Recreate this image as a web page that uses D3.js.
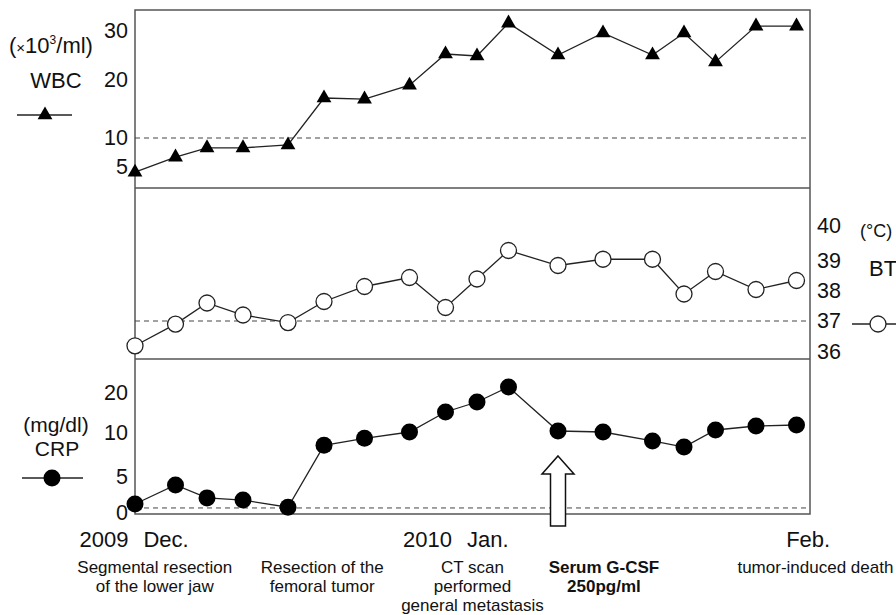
<!DOCTYPE html>
<meta charset="utf-8">
<style>
body { margin: 0; background: #fff; }
svg { font-family: "Liberation Sans", Arial, sans-serif; }
</style>
<body>
<script src="https://cdn.jsdelivr.net/npm/d3@7"></script>
<script>
// sampling days (day 0 = early Dec 2009)
var days = [0, 4.5, 8, 12, 17, 21, 25.5, 30.5, 34.5, 38, 41.5, 47, 52, 57.5, 61, 64.5, 69, 73.5]

var wbc = [4.1, 6.7, 8.3, 8.3, 8.8, 16.9, 16.7, 19.1, 25.3, 24.9, 31.6, 25.1, 29.6, 25.1, 29.6, 23.7, 31.0, 31.0]
var bt = [36.2, 36.9, 37.6, 37.2, 36.95, 37.65, 38.15, 38.45, 37.45, 38.4, 39.3, 38.85, 39.05, 39.05, 37.9, 38.65, 38.05, 38.35]
var crp = [1.25, 3.9, 2.1, 1.8, 0.8, 8.6, 9.4, 10.25, 15.25, 17.75, 21.5, 10.5, 10.25, 9.1, 8.4, 10.75, 11.75, 12]

var wbcTicks = [5, 10, 20, 30]
var btTicks = [36, 37, 38, 39, 40]
var crpTicks = [0, 5, 10, 20]

var wbcNormal = 10
var btNormal = 37
var crpNormal = 0.7

var monthLabels = [
    {day: 0.05, year: '2009', month: 'Dec.'},
    {day: 36, year: '2010', month: 'Jan.'},
    {day: 74.8, year: '', month: 'Feb.'}
]

var events = [
    {day: 2.2, lines: ['Segmental resection', 'of the lower jaw'], bold: false},
    {day: 20.8, lines: ['Resection of the', 'femoral tumor'], bold: false},
    {day: 37.5, lines: ['CT scan', 'performed', 'general metastasis'], bold: false},
    {day: 52.1, lines: ['Serum G-CSF', '250pg/ml'], bold: true},
    {day: 75.6, lines: ['tumor-induced death'], bold: false}
]
var arrowDay = 47

var width = 896
var height = 615
var left = 135, right = 810
var panels = [10, 188, 359, 514]

var svg = d3.select('body').append('svg')
    .attr('width', width)
    .attr('height', height)

var x = d3.scaleLinear().domain([0, 75]).range([left, right])

var yW = d3.scaleLinear().domain([5, 10, 20, 30]).range([167, 138, 80, 31])
var yT = d3.scaleLinear().domain([36, 37, 38, 39, 40]).range([352, 321, 291, 261, 226])
var yC = d3.scaleLinear().domain([0, 5, 10, 20]).range([513, 477, 433, 393])

var frameColor = '#555'
var lineColor = '#222'

// frame
svg.append('rect')
    .attr('x', left).attr('y', panels[0])
    .attr('width', right - left).attr('height', panels[3] - panels[0])
    .attr('fill', 'none').attr('stroke', frameColor).attr('stroke-width', 1.5)
svg.selectAll('.sep')
    .data([panels[1], panels[2]])
    .enter().append('line')
    .attr('class', 'sep')
    .attr('x1', left).attr('x2', right)
    .attr('y1', function (d) { return d }).attr('y2', function (d) { return d })
    .attr('stroke', frameColor).attr('stroke-width', 1.5)

// normal limits
svg.selectAll('.norm')
    .data([yW(wbcNormal), yT(btNormal), yC(crpNormal)])
    .enter().append('line')
    .attr('class', 'norm')
    .attr('x1', left).attr('x2', right)
    .attr('y1', function (d) { return d }).attr('y2', function (d) { return d })
    .attr('stroke', '#444').attr('stroke-width', 1)
    .attr('stroke-dasharray', '5,4')

// axes
function styleAxis(g) {
    g.select('.domain').remove()
    g.selectAll('text').attr('font-size', 21.5).attr('fill', '#111')
        .attr('font-family', '"Liberation Sans", Arial, sans-serif')
}
svg.append('g').attr('transform', 'translate(' + left + ',0)')
    .call(d3.axisLeft(yW).tickValues(wbcTicks).tickFormat(d3.format('d')).tickSize(0).tickPadding(7))
    .call(styleAxis)
svg.append('g').attr('transform', 'translate(' + left + ',0)')
    .call(d3.axisLeft(yC).tickValues(crpTicks).tickFormat(d3.format('d')).tickSize(0).tickPadding(7))
    .call(styleAxis)
svg.append('g').attr('transform', 'translate(' + right + ',0)')
    .call(d3.axisRight(yT).tickValues(btTicks).tickFormat(d3.format('d')).tickSize(0).tickPadding(7))
    .call(styleAxis)

var line = d3.line()

function series(vals, y) {
    return vals.map(function (v, i) { return [x(days[i]), y(v)] })
}

var wbcPts = series(wbc, yW)
var btPts = series(bt, yT)
var crpPts = series(crp, yC)

;[wbcPts, btPts, crpPts].forEach(function (pts) {
    svg.append('path').attr('d', line(pts))
        .attr('fill', 'none').attr('stroke', lineColor).attr('stroke-width', 1.3)
})

var tri = d3.symbol().type(d3.symbolTriangle).size(95)

svg.selectAll('.wbc')
    .data(wbcPts).enter().append('path')
    .attr('class', 'wbc')
    .attr('d', tri)
    .attr('transform', function (d) { return 'translate(' + d[0] + ',' + d[1] + ')' })
    .attr('fill', '#000')

svg.selectAll('.bt')
    .data(btPts).enter().append('circle')
    .attr('class', 'bt')
    .attr('cx', function (d) { return d[0] }).attr('cy', function (d) { return d[1] })
    .attr('r', 8)
    .attr('fill', '#fff').attr('stroke', lineColor).attr('stroke-width', 1.3)

svg.selectAll('.crp')
    .data(crpPts).enter().append('circle')
    .attr('class', 'crp')
    .attr('cx', function (d) { return d[0] }).attr('cy', function (d) { return d[1] })
    .attr('r', 8.5)
    .attr('fill', '#000')

// left / right labels and legends
var wl = svg.append('text').attr('x', 9).attr('y', 53).attr('font-size', 22).attr('fill', '#111')
wl.append('tspan').text('(')
wl.append('tspan').attr('font-size', 15).text('×')
wl.append('tspan').text('10')
wl.append('tspan').attr('font-size', 12).attr('dy', -9).text('3')
wl.append('tspan').attr('dy', 9).text('/ml)')

svg.append('text').attr('x', 56).attr('y', 88).attr('text-anchor', 'middle')
    .attr('font-size', 22).attr('fill', '#111').text('WBC')
svg.append('line').attr('x1', 17).attr('x2', 72).attr('y1', 115).attr('y2', 115)
    .attr('stroke', lineColor).attr('stroke-width', 1.3)
svg.append('path').attr('d', tri).attr('transform', 'translate(45,115)').attr('fill', '#000')

svg.append('text').attr('x', 56).attr('y', 432).attr('text-anchor', 'middle')
    .attr('font-size', 21).attr('fill', '#111').text('(mg/dl)')
svg.append('text').attr('x', 57).attr('y', 456).attr('text-anchor', 'middle')
    .attr('font-size', 21).attr('fill', '#111').text('CRP')
svg.append('line').attr('x1', 22).attr('x2', 83).attr('y1', 478).attr('y2', 478)
    .attr('stroke', lineColor).attr('stroke-width', 1.3)
svg.append('circle').attr('cx', 52).attr('cy', 478).attr('r', 8.5).attr('fill', '#000')

svg.append('text').attr('x', 860).attr('y', 237)
    .attr('font-size', 18).attr('fill', '#111').text('(°C)')
svg.append('text').attr('x', 869).attr('y', 276)
    .attr('font-size', 22).attr('fill', '#111').text('BT')
svg.append('line').attr('x1', 852).attr('x2', 900).attr('y1', 324).attr('y2', 324)
    .attr('stroke', lineColor).attr('stroke-width', 1.3)
svg.append('circle').attr('cx', 878).attr('cy', 324).attr('r', 8)
    .attr('fill', '#fff').attr('stroke', lineColor).attr('stroke-width', 1.3)

// month labels
monthLabels.forEach(function (m) {
    var g = svg.append('g').attr('font-size', 22).attr('fill', '#111')
    if (m.year) {
        g.append('text').attr('x', x(m.day) - 7).attr('y', 547)
            .attr('text-anchor', 'end').text(m.year)
        g.append('text').attr('x', x(m.day) + 8).attr('y', 547).text(m.month)
    } else {
        g.append('text').attr('x', x(m.day)).attr('y', 547)
            .attr('text-anchor', 'middle').text(m.month)
    }
})

// events
events.forEach(function (e) {
    var t = svg.append('text').attr('text-anchor', 'middle')
        .attr('font-size', 17).attr('fill', '#111')
        .attr('font-weight', e.bold ? 'bold' : null)
    e.lines.forEach(function (s, i) {
        t.append('tspan').attr('x', x(e.day)).attr('y', 573 + i * 19).text(s)
    })
})

// arrow
var ax = x(arrowDay)
var arrowPts = [
    [ax, 456], [ax + 16, 474], [ax + 7.5, 474], [ax + 7.5, 526],
    [ax - 7.5, 526], [ax - 7.5, 474], [ax - 16, 474]
]
svg.append('path').attr('d', d3.line()(arrowPts) + 'Z')
    .attr('fill', '#fff').attr('stroke', '#111').attr('stroke-width', 1.5)
</script>
</body>
